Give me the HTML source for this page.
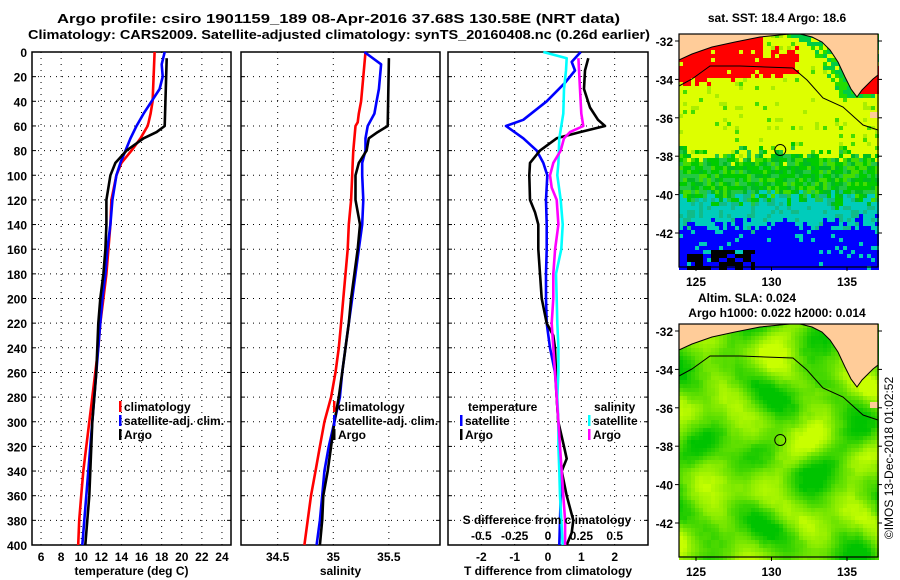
<!DOCTYPE html>
<html><head><meta charset="utf-8">
<style>
html,body{margin:0;padding:0;background:#fff;}
svg{display:block;font-family:"Liberation Sans",sans-serif;font-weight:bold;}
</style></head>
<body>
<svg id="fig" width="900" height="580" viewBox="0 0 900 580" xmlns="http://www.w3.org/2000/svg">
<rect width="900" height="580" fill="#fff"/>
<text x="57" y="23" font-size="13" textLength="563" lengthAdjust="spacingAndGlyphs">Argo profile: csiro 1901159_189 08-Apr-2016 37.68S 130.58E (NRT data)</text>
<text x="28" y="39" font-size="13" textLength="622" lengthAdjust="spacingAndGlyphs">Climatology: CARS2009. Satellite-adjusted climatology: synTS_20160408.nc (0.26d earlier)</text>
<g id="p1"></g>
<g id="p2"></g>
<g id="p3"></g>
<g id="m1"></g>
<g id="m2"></g>
<text x="777" y="22" font-size="12" text-anchor="middle">sat. SST: 18.4 Argo: 18.6</text>
<text x="747" y="302" font-size="12" text-anchor="middle">Altim. SLA: 0.024</text>
<text x="777" y="317" font-size="12" text-anchor="middle">Argo h1000: 0.022 h2000: 0.014</text>
<text transform="translate(893,458) rotate(-90)" font-size="12" font-weight="normal" text-anchor="middle">©IMOS 13-Dec-2018 01:02:52</text>
</svg>
<script>
// ---------- data ----------
const depthClim = [0,20,40,50,57,60,70,80,90,100,120,140,160,180,200,220,240,260,280,300,320,340,360,380,400];
const tempClim  = [17.3,17.2,17.1,16.9,16.7,16.6,15.9,15.0,14.0,13.5,13.0,12.9,12.7,12.5,12.2,11.9,11.7,11.4,11.1,10.8,10.5,10.2,10.0,9.8,9.7];
const depthSat = [0,10,20,30,40,50,60,70,80,90,100,120,140,160,180,200,220,240,260,280,300,320,340,360,380,400];
const tempSat  = [18.3,18.0,18.1,17.8,17.0,16.2,15.5,14.9,14.4,13.9,13.5,13.1,12.9,12.6,12.4,12.1,11.9,11.7,11.5,11.3,11.1,10.9,10.7,10.5,10.3,10.1];
const depthArgo = [5,60,65,70,80,90,100,120,140,160,180,200,220,240,260,280,300,320,340,360,380,400];
const tempArgo  = [18.5,18.3,17.5,16.2,14.5,13.4,12.9,12.5,12.5,12.4,12.2,11.9,11.7,11.6,11.5,11.3,11.1,11.0,10.9,10.8,10.6,10.4];
const salClim = [35.29,35.27,35.25,35.23,35.22,35.2,35.19,35.18,35.175,35.17,35.16,35.14,35.13,35.11,35.09,35.07,35.05,35.02,34.98,34.92,34.88,34.84,34.8,34.77,34.74];
const salSat  = [35.28,35.43,35.42,35.41,35.39,35.37,35.31,35.29,35.29,35.26,35.26,35.27,35.26,35.23,35.2,35.17,35.14,35.11,35.08,35.06,35.01,34.96,34.92,34.9,34.88,34.85];
const salArgo = [35.5,35.49,35.4,35.32,35.3,35.23,35.2,35.2,35.24,35.22,35.19,35.16,35.14,35.11,35.08,35.05,35.01,34.98,34.95,34.91,34.9,34.88];
const depthDiff = [0,8,15,25,40,55,60,70,80,90,100,120,140,160,180,200,220,240,260,280,300,320,340,360,380,400];
const tDiffSat  = [0.98,0.71,0.81,0.51,-0.04,-0.74,-1.26,-0.74,-0.34,-0.14,-0.02,-0.06,-0.04,-0.04,-0.06,-0.06,-0.04,0.06,0.21,0.26,0.31,0.34,0.36,0.38,0.36,0.34];
const depthDiffArgo = [5,15,30,45,55,60,65,70,80,90,100,120,130,140,160,180,200,220,230,240,260,280,300,320,330,340,360,380,390,400];
const tDiffArgo = [1.21,1.11,1.08,1.26,1.5,1.71,0.96,0.26,-0.24,-0.54,-0.56,-0.54,-0.39,-0.29,-0.29,-0.24,-0.19,-0.04,0.16,0.21,0.24,0.26,0.31,0.48,0.56,0.41,0.56,0.76,0.71,0.56];
const depthDiffS = [0,5,15,30,50,70,90,100,120,140,160,180,200,220,240,260,280,300,320,340,360,380,400];
const sDiffSat  = [-0.035,0.14,0.135,0.12,0.115,0.085,0.078,0.07,0.095,0.11,0.1,0.06,0.065,0.07,0.078,0.078,0.07,0.078,0.078,0.085,0.09,0.1,0.11];
const depthDiffSA = [5,30,50,60,65,70,80,90,100,110,120,140,160,180,200,220,240,260,280,300,320,340,360,380,400];
const sDiffArgo = [0.228,0.24,0.25,0.265,0.165,0.12,0.095,0.04,0.015,0.028,0.065,0.078,0.053,0.04,0.04,0.028,0.04,0.053,0.065,0.078,0.09,0.103,0.115,0.128,0.128];
const depthTicks = [0,20,40,60,80,100,120,140,160,180,200,220,240,260,280,300,320,340,360,380,400];
const tempTicks = [6,8,10,12,14,16,18,20,22,24];
const salTicks = [34.5,35,35.5];
const tDiffTicks = [-2,-1,0,1,2];
const sDiffTicks = [-0.5,-0.25,0,0.25,0.5];
const latTicks = [-32,-34,-36,-38,-40,-42];
const lonTicks = [125,130,135];

const NS='http://www.w3.org/2000/svg';
function mk(tag,attrs,parent,txt){const e=document.createElementNS(NS,tag);for(const k in attrs)e.setAttribute(k,attrs[k]);if(txt!==undefined)e.textContent=txt;parent.appendChild(e);return e;}
const Y0=52,Y1=545;
const yD=d=>Y0+(d/400)*(Y1-Y0);

function panel(g,x0,x1,xmin,xmax,xticks,showY,xlabel){
  const sx=v=>x0+(v-xmin)/(xmax-xmin)*(x1-x0);
  depthTicks.forEach(d=>{
    const l=mk('line',{x1:x0,x2:x1,y1:yD(d),y2:yD(d),stroke:'#000','stroke-width':1,'stroke-dasharray':'1,5'},g);
    
    
    mk('line',{x1:x0,x2:x0+4,y1:yD(d),y2:yD(d),stroke:'#000'},g);
    mk('line',{x1:x1-4,x2:x1,y1:yD(d),y2:yD(d),stroke:'#000'},g);
    if(showY){const t=mk('text',{x:27,y:yD(d)+5,'font-size':12,'text-anchor':'end'},g,String(d));
      
      }
  });
  xticks.forEach(v=>{
    const l=mk('line',{x1:sx(v),x2:sx(v),y1:Y0,y2:Y1,stroke:'#000','stroke-width':1,'stroke-dasharray':'1,5'},g);
    
    
    const t=mk('text',{x:sx(v),y:561,'font-size':12,'text-anchor':'middle'},g,String(v));
    
    
  });
  const r=mk('rect',{x:x0,y:Y0,width:x1-x0,height:Y1-Y0,fill:'none',stroke:'#000','stroke-width':1.5},g);
  
  
  const lab=mk('text',{x:(x0+x1)/2,y:575,'font-size':12,'text-anchor':'middle'},g,xlabel);
  
  
  return sx;
}
function series(g,sx,depths,vals,color,name){
  const pts=depths.map((d,i)=>sx(vals[i]).toFixed(1)+','+yD(d).toFixed(1)).join(' ');
  const p=mk('polyline',{points:pts,fill:'none',stroke:color,'stroke-width':2.6,'stroke-linejoin':'round'},g);
  
  
}
function legend(g,x,y,color,label,name){
  mk('rect',{x:x,y:y-10,width:2.5,height:11,fill:color},g);
  const t=mk('text',{x:x+5,y:y,'font-size':12},g,label);
  
  
}

const p1=document.getElementById('p1');
const sx1=panel(p1,32,231,5.1,24.9,tempTicks,true,'temperature (deg C)');
series(p1,sx1,depthClim,tempClim,'#f00','climatology-temp-line');
series(p1,sx1,depthSat,tempSat,'#00f','satellite-temp-line');
series(p1,sx1,depthArgo,tempArgo,'#000','argo-temp-line');
legend(p1,119,411,'#f00','climatology','legend-climatology');
legend(p1,119,425,'#00f','satellite-adj. clim.','legend-satellite');
legend(p1,119,439,'#000','Argo','legend-argo');

const p2=document.getElementById('p2');
const sx2=panel(p2,241,440,34.17,35.96,salTicks,false,'salinity');
series(p2,sx2,depthClim,salClim,'#f00','climatology-sal-line');
series(p2,sx2,depthSat,salSat,'#00f','satellite-sal-line');
series(p2,sx2,depthArgo,salArgo,'#000','argo-sal-line');
legend(p2,333,411,'#f00','climatology','legend-climatology');
legend(p2,333,425,'#00f','satellite-adj. clim.','legend-satellite');
legend(p2,333,439,'#000','Argo','legend-argo');

const p3=document.getElementById('p3');
const sx3=panel(p3,448,648,-3,3,tDiffTicks,false,'T difference from climatology');
const sxS=v=>sx3(v*4);
series(p3,sx3,depthDiff,tDiffSat,'#00f','temp-diff-satellite-line');
series(p3,sx3,depthDiffArgo,tDiffArgo,'#000','temp-diff-argo-line');
series(p3,sxS,depthDiffS,sDiffSat,'#0ff','sal-diff-satellite-line');
series(p3,sxS,depthDiffSA,sDiffArgo,'#f0f','sal-diff-argo-line');
sDiffTicks.forEach(v=>{const t=mk('text',{x:sxS(v),y:540,'font-size':12,'text-anchor':'middle'},p3,String(v));
  
  });
{const t=mk('text',{x:547,y:524,'font-size':12,'text-anchor':'middle'},p3,'S difference from climatology');
 
 }
{const t=mk('text',{x:468,y:411,'font-size':12},p3,'temperature');
 
 
 const t2=mk('text',{x:594,y:411,'font-size':12},p3,'salinity');
 
 }
legend(p3,460,425,'#00f','satellite','legend-temp-satellite');
legend(p3,460,439,'#000','Argo','legend-temp-argo');
legend(p3,588,425,'#0ff','satellite','legend-sal-satellite');
legend(p3,588,439,'#f0f','Argo','legend-sal-argo');

// ---------- maps ----------
function hash(i,j,s){let h=(i*374761393+j*668265263+s*982451653)|0;h=(h^(h>>>13))*1274126177|0;h=h^(h>>>16);return ((h>>>0)%10000)/10000;}
const MX0=679,MX1=878,MW=199;
const lonX=lon=>696+(lon-125)*15.1;
const latY=(lat,oy)=>oy+41+(-32-lat)*19.2;
const land1=[[679,34],[679,60],[692,54],[712,47],[735,42],[760,37],[790,34]];
const land2=[[800,34],[812,37],[822,42],[830,50],[838,62],[845,77],[851,89],[857,97],[862,90],[867,85],[873,79],[878,75],[878,34]];
function coastX(yr){ // x of the right coast at relative y
  for(let k=0;k<8;k++){const a=land2[k],b=land2[k+1];
    if(yr>=a[1]&&yr<=b[1]) return a[0]+(b[0]-a[0])*(yr-a[1])/((b[1]-a[1])||1);}
  return 2000;
}
function drawMap(g,oy,kind){
  const top=oy+34,bot=oy+267,cs=4;
  for(let y=top;y<bot;y+=cs){for(let x=MX0;x<MX1;x+=cs){
    const i=(x-MX0)/cs|0,j=(y-top)/cs|0;
    const lat=-32-(y+2-oy-41)/19.2, lon=125+(x+2-696)/15.1;
    let c;
    if(kind==='sst'){
      const n=(hash(i,j,1)-0.5)*1.4+(hash(i>>1,j>>1,2)-0.5)*0.8;
      const v=lat+n*0.6;
      const redS=-34.3+(lon-124)*0.08+(hash(i,j,7)-0.5)*0.4;
      if(lon<131.8 && lat>redS && !(lon>129.5 && lat>-32.6+ (hash(i,j,11)-0.5)*0.5)) c=hash(i,j,8)<0.08?'#ddff00':'#ff0000';
      else if(v>-37.9) c=hash(i,j,3)<0.05?'#aaee00':(hash(i,j,3)<0.08?'#44dd00':'#ddff00');
      else if(v>-40.2){const h=hash(i,j,4);c=h<0.35?'#00cc00':h<0.6?'#22c844':h<0.8?'#44dd00':'#00bb22';}
      else if(v>-41.6) c=hash(i,j,5)<0.25?'#11bb88':'#00ccbb';
      else { c=hash(i,j,6)<0.07?'#00ccbb':'#0000ff'; if(lat<-42.9 && lon<129 && hash(i>>1,j,9)<0.4) c='#000'; }
      const cx=coastX(y-oy);
      if(x>cx-18 && y-oy<112 && c!=='#ff0000') c=hash(i,j,10)<0.45?'#00cc44':(hash(i,j,10)<0.75?'#22dd00':'#ddff00');
      if(lon>135.9 && lat>-34.8 && lat<-33.4) c='#ff0000';
    } else {
      const f=Math.sin(lon*1.3+Math.sin(lat*0.9)*2)*0.5+Math.sin(lat*1.7+lon*0.4)*0.4+Math.sin(lon*0.7-lat*1.1)*0.3+(hash(i>>1,j>>1,3)-0.5)*0.2;
      const t=Math.max(0,Math.min(1,(f+0.9)/1.8));
      const r=Math.round(0+t*200), gg=Math.round(195+t*60);
      c='rgb('+r+','+gg+',0)';
    }
    mk('rect',{x:x,y:y,width:cs,height:cs,fill:c},g);
  }}
  [land1,land2].forEach((L,k)=>{
    const p=mk('polygon',{points:L.map(q=>q[0]+','+(q[1]+oy)).join(' '),fill:'#ffcc99',stroke:'#000','stroke-width':1},g);
    
    
  });
  mk('rect',{x:870,y:oy+112,width:8,height:6,fill:'#ffcc99'},g);
  const cont=[[679,86],[692,79],[710,66],[740,66],[765,67],[793,68],[807,80],[823,98],[843,107],[863,125],[878,130]];
  const cl=mk('polyline',{points:cont.map(q=>q[0]+','+(q[1]+oy)).join(' '),fill:'none',stroke:'#000','stroke-width':1},g);
  
  
  const ci=mk('circle',{cx:lonX(130.58),cy:latY(-37.68,oy),r:5.5,fill:'none',stroke:'#000','stroke-width':1},g);
  
  
  const fr=mk('rect',{x:MX0,y:top,width:MW,height:bot-top,fill:'none',stroke:'#000','stroke-width':1.2},g);
  
  
  latTicks.forEach(l=>{const yy=latY(l,oy);
    mk('line',{x1:MX0-4,x2:MX0,y1:yy,y2:yy,stroke:'#000'},g);
    mk('line',{x1:MX1,x2:MX1+4,y1:yy,y2:yy,stroke:'#000'},g);
    const t=mk('text',{x:673,y:yy+5,'font-size':12,'text-anchor':'end'},g,String(l));
    
    });
  lonTicks.forEach(l=>{const xx=lonX(l);
    mk('line',{x1:xx,x2:xx,y1:bot,y2:bot+4,stroke:'#000'},g);
    const t=mk('text',{x:xx,y:oy+286,'font-size':12,'text-anchor':'middle'},g,String(l));
    
    });
}
drawMap(document.getElementById('m1'),0,'sst');
drawMap(document.getElementById('m2'),290,'sla');
</script>
</body></html>
